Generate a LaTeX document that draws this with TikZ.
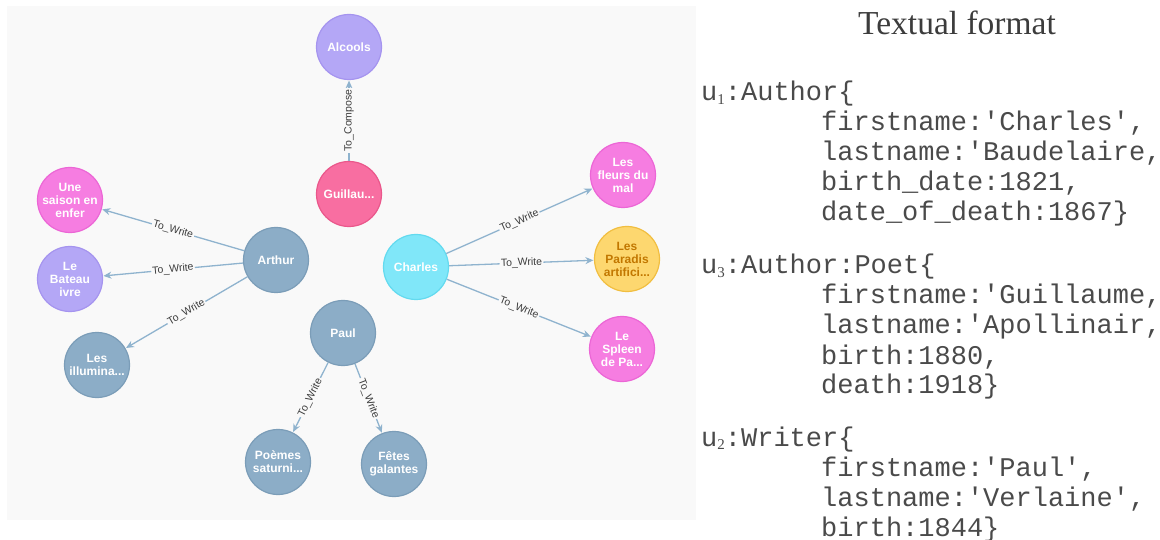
\documentclass[tikz,border=0pt]{standalone}
\usepackage{fontspec}
\setmainfont{Liberation Sans}
\newfontfamily\titlefont{Liberation Serif}
\setmonofont{Liberation Mono}
\usetikzlibrary{arrows.meta}
\definecolor{panelc}{HTML}{F9F9F9}
\definecolor{edgec}{HTML}{8FB3CE}
\definecolor{pinkf}{HTML}{F67DE1}\definecolor{pinkd}{HTML}{EC66D6}
\definecolor{lavf}{HTML}{B4A7F6}\definecolor{lavd}{HTML}{A594EF}
\definecolor{hotf}{HTML}{F86EA1}\definecolor{hotd}{HTML}{EA578B}
\definecolor{steelf}{HTML}{8CADC7}\definecolor{steeld}{HTML}{7B9DB8}
\definecolor{cyanf}{HTML}{80E7F9}\definecolor{cyand}{HTML}{63DAEF}
\definecolor{yelf}{HTML}{FDD76F}\definecolor{yeld}{HTML}{F1BE40}
\definecolor{yeltext}{HTML}{C27700}
\definecolor{txtc}{HTML}{3C3C3C}
\definecolor{codec}{HTML}{4A4A4A}
\tikzset{
  gnode/.style={circle, minimum size=65pt, inner sep=0pt, line width=1.2pt,
    text=white, align=center, font=\fontsize{12}{13}\selectfont\bfseries},
  pinkn/.style={gnode, fill=pinkf, draw=pinkd},
  lavn/.style={gnode, fill=lavf, draw=lavd},
  hotn/.style={gnode, fill=hotf, draw=hotd},
  steeln/.style={gnode, fill=steelf, draw=steeld},
  cyann/.style={gnode, fill=cyanf, draw=cyand},
  yeln/.style={gnode, fill=yelf, draw=yeld, text=yeltext},
  edge/.style={draw=edgec, line width=1.3pt, -{Stealth[length=8pt,width=7pt]}, shorten >=0.5pt},
  elabel/.style={fill=panelc, inner sep=1.2pt, text=txtc, font=\fontsize{10.5}{10.5}\selectfont},
  codeline/.style={anchor=base west, inner sep=0pt, text=codec, font=\ttfamily\fontsize{27}{30}\selectfont},
  titlenode/.style={anchor=base, inner sep=0pt, text=txtc, font=\titlefont\fontsize{33.5}{38}\selectfont}
}
\newcommand{\subidx}[1]{{\titlefont\fontsize{15}{15}\selectfont\raisebox{-3.5pt}{#1}}}
\begin{document}
\begin{tikzpicture}[x=1pt,y=-1pt]
\useasboundingbox (0,0) rectangle (1160,540);
\fill[panelc] (7,6) rectangle (696,520);
% nodes
\node[lavn]   (alc) at (349,47)  {Alcools};
\node[hotn]   (gui) at (349,194) {Guillau...};
\node[steeln] (art) at (276,260) {Arthur};
\node[pinkn]  (une) at (70,200)  {Une\\saison en\\enfer};
\node[lavn]   (bat) at (70,279)  {Le\\Bateau\\ivre};
\node[steeln] (ill) at (97,365)  {Les\\illumina...};
\node[cyann]  (cha) at (416,267) {Charles};
\node[pinkn]  (fle) at (623,175) {Les\\fleurs du\\mal};
\node[yeln]   (par) at (627,259) {Les\\Paradis\\artifici...};
\node[pinkn]  (spl) at (622,349) {Le\\Spleen\\de Pa...};
\node[steeln] (pau) at (343,333) {Paul};
\node[steeln] (poe) at (278,462) {Poèmes\\saturni...};
\node[steeln] (fet) at (394,464) {Fêtes\\galantes};
% edges
\draw[edge] (gui) -- node[elabel, rotate=90] {To\_Compose} (alc);
\draw[edge] (art) -- node[elabel, sloped] {To\_Write} (une);
\draw[edge] (art) -- node[elabel, sloped] {To\_Write} (bat);
\draw[edge] (art) -- node[elabel, sloped] {To\_Write} (ill);
\draw[edge] (cha) -- node[elabel, sloped] {To\_Write} (fle);
\draw[edge] (cha) -- node[elabel, sloped] {To\_Write} (par);
\draw[edge] (cha) -- node[elabel, sloped] {To\_Write} (spl);
\draw[edge] (pau) -- node[elabel, sloped] {To\_Write} (poe);
\draw[edge] (pau) -- node[elabel, sloped] {To\_Write} (fet);
% textual format
\node[titlenode] (title) at (957,35) {Textual format};
\node[codeline] (a0) at (701,101) {u\subidx{1}:Author\{};
\node[codeline] (a1) at (821,131) {firstname:'Charles',};
\node[codeline] (a2) at (821,161) {lastname:'Baudelaire,};
\node[codeline] (a3) at (821,191) {birth\_date:1821,};
\node[codeline] (a4) at (821,221) {date\_of\_death:1867\}};
\node[codeline] (b0) at (701,274) {u\subidx{3}:Author:Poet\{};
\node[codeline] (b1) at (821,304) {firstname:'Guillaume,};
\node[codeline] (b2) at (821,334) {lastname:'Apollinair,};
\node[codeline] (b3) at (821,364) {birth:1880,};
\node[codeline] (b4) at (821,393) {death:1918\}};
\node[codeline] (c0) at (701,446) {u\subidx{2}:Writer\{};
\node[codeline] (c1) at (821,476) {firstname:'Paul',};
\node[codeline] (c2) at (821,506) {lastname:'Verlaine',};
\node[codeline] (c3) at (821,536) {birth:1844\}};
\end{tikzpicture}
\end{document}
